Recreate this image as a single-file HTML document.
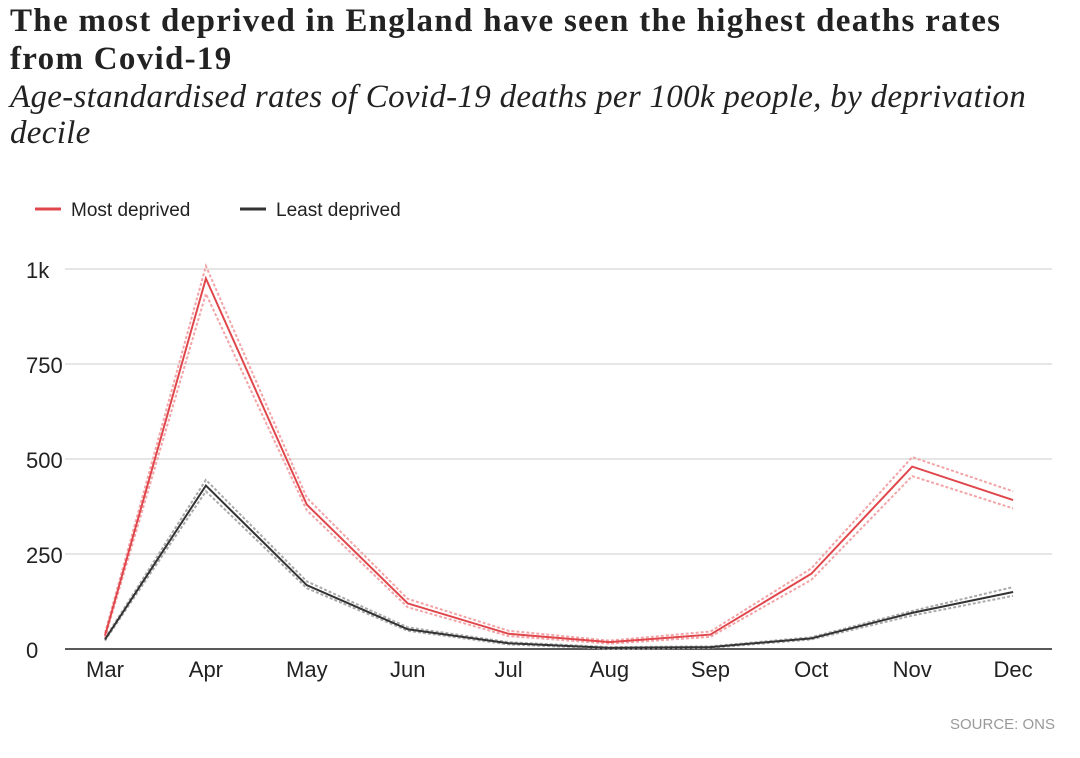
<!DOCTYPE html>
<html><head><meta charset="utf-8"><style>
body{margin:0;background:#fff;width:1080px;height:758px;overflow:hidden;position:relative}
.t{position:absolute;left:10px;top:2px;font:bold 33px/38px "Liberation Serif",serif;letter-spacing:1.3px;color:#222;margin:0;white-space:nowrap}
.s{position:absolute;left:10px;top:79px;font:italic 33px/36px "Liberation Serif",serif;letter-spacing:0.3px;color:#222;margin:0;white-space:nowrap}
svg{position:absolute;left:0;top:0}
text{font-family:"Liberation Sans Narrow","Liberation Sans",sans-serif;fill:#222}
</style></head><body>
<h1 class="t">The most deprived in England have seen the highest deaths rates<br>from Covid-19</h1>
<p class="s">Age-standardised rates of Covid-19 deaths per 100k people, by deprivation<br>decile</p>
<svg id="c" width="1080" height="758"></svg>
<script>
const months=["Mar","Apr","May","Jun","Jul","Aug","Sep","Oct","Nov","Dec"];
const mostDeprived=[35,975,380,120,40,18,38,198,480,392];
const mostUpper=[42,1008,398,132,48,22,46,212,505,415];
const mostLower=[30,935,365,110,34,14,32,182,455,370];
const leastDeprived=[25,430,168,52,15,3,5,28,95,150];
const leastUpper=[28,445,178,57,18,5,7,31,100,163];
const leastLower=[22,415,160,48,12,1,3,25,88,140];
const yTicks=[0,250,500,750,1000];
const yTickLabels=["0","250","500","750","1k"];
const svg=document.getElementById('c');const NS="http://www.w3.org/2000/svg";
const x=i=>105+i*100.9, y=v=>649-v*0.38;
function mk(t,a,p){const e=document.createElementNS(NS,t);for(const k in a)e.setAttribute(k,a[k]);(p||svg).appendChild(e);return e;}
yTicks.forEach((v,i)=>{
 const g=mk('line',{x1:65,x2:1052,y1:y(v),y2:y(v),stroke:v?'#ddd':'#222','stroke-width':1.5});
 
 
 const t=mk('text',{x:26,y:y(v)+9,'font-size':22});t.textContent=yTickLabels[i];
 
 
});
months.forEach((m,i)=>{
 const t=mk('text',{x:x(i),y:677,'font-size':22,'text-anchor':'middle'});t.textContent=m;
 
 
});
function line(arr,col,w,dash,name){
 const p=mk('polyline',{points:arr.map((v,i)=>x(i)+','+y(v)).join(' '),fill:'none',stroke:col,'stroke-width':w});
 if(dash)p.setAttribute('stroke-dasharray',dash);
 
 
}
line(leastUpper,'#aaa',2,'3 2','least-upper-bound');
line(leastLower,'#aaa',2,'3 2','least-lower-bound');
line(mostUpper,'#f2a5a8',2,'3 2','most-upper-bound');
line(mostLower,'#f2a5a8',2,'3 2','most-lower-bound');
line(leastDeprived,'#333',2,null,'least-deprived-line');
line(mostDeprived,'#e0474c',2,null,'most-deprived-line');
[[35,'#e0474c','Most deprived','legend-most-deprived'],[240,'#333','Least deprived','legend-least-deprived']].forEach(l=>{
 const g=mk('g',{});
 mk('line',{x1:l[0],x2:l[0]+26,y1:209,y2:209,stroke:l[1],'stroke-width':3},g);
 const t=mk('text',{x:l[0]+36,y:216,'font-size':19},g);t.textContent=l[2];
});
const s=mk('text',{x:1055,y:729,'font-size':15,'text-anchor':'end',fill:'#999'});s.textContent='SOURCE: ONS';
s.setAttribute('style','fill:#999');


</script>
</body></html>
